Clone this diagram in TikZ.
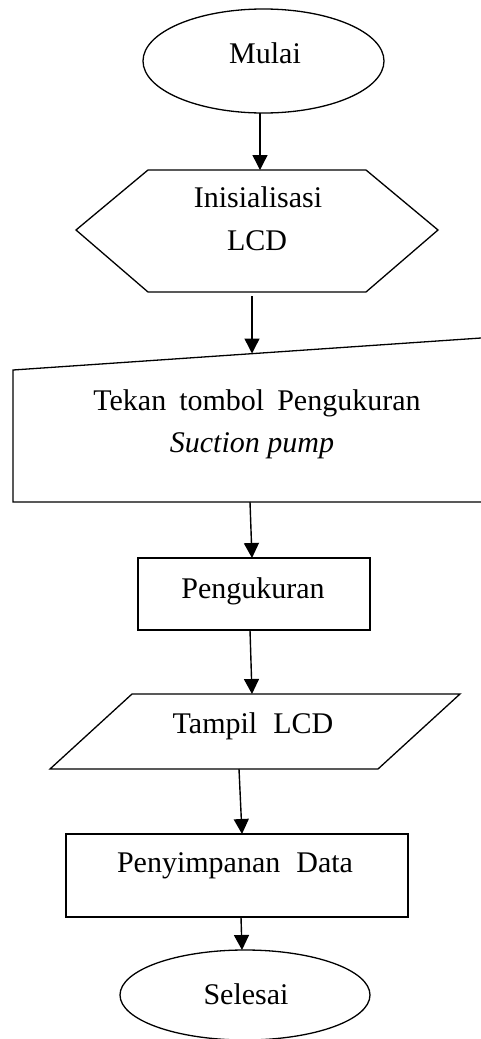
\documentclass[tikz,border=0pt]{standalone}
\usepackage{fontspec}
\setmainfont{Liberation Serif}
\usetikzlibrary{arrows.meta}
\tikzset{
  shapeline/.style={draw=black, line width=1.3pt, line join=miter},
  lbl/.style={anchor=base, inner sep=0pt, font=\fontsize{30}{36}\selectfont},
  flow/.style={draw=black, line width=1.4pt, -{Triangle[length=15pt,width=15pt]}}
}
\begin{document}
\begin{tikzpicture}[x=1pt,y=-1pt]
\useasboundingbox (0,0) rectangle (480,1039);
\fill[white] (0,0) rectangle (480,1039);
% Mulai
\draw[shapeline] (263.5,61) ellipse [x radius=120.5, y radius=52];
\node[lbl] (mulai) at (265,63) {Mulai};
% Hexagon
\draw[shapeline] (76,230) -- (148,170) -- (366,170) -- (438,230) -- (366,292) -- (148,292) -- cycle;
\node[lbl] (init1) at (258,207) {Inisialisasi};
\node[lbl] (init2) at (257,250) {LCD};
% Manual input
\draw[shapeline] (13,370) -- (484,337.8) -- (484,502) -- (13,502) -- cycle;
\node[lbl] (tekan1) at (257,410) {Tekan\hspace{13pt}tombol\hspace{13pt}Pengukuran};
\node[lbl] (tekan2) at (252,452) {\itshape Suction pump};
% Pengukuran
\draw[shapeline] (138,558) rectangle (370,630);
\node[lbl] (ukur) at (253,598) {Pengukuran};
% Tampil LCD
\draw[shapeline] (132,694) -- (460,694) -- (378,769) -- (50,769) -- cycle;
\node[lbl] (tampil) at (253,733) {Tampil\hspace{16pt}LCD};
% Penyimpanan Data
\draw[shapeline] (66,834) rectangle (408,917);
\node[lbl] (simpan) at (235,872) {Penyimpanan\hspace{16pt}Data};
% Selesai
\draw[shapeline] (245,995) ellipse [x radius=125, y radius=45];
\node[lbl] (selesai) at (246,1004) {Selesai};
% connector endpoints
\coordinate (a1) at (260,113); \coordinate (b1) at (260,170);
\coordinate (a2) at (252,296); \coordinate (b2) at (252,353.5);
\coordinate (a3) at (250,502); \coordinate (b3) at (252,558);
\coordinate (a4) at (250,630); \coordinate (b4) at (252,694);
\coordinate (a5) at (239,769); \coordinate (b5) at (242,834);
\coordinate (a6) at (241,917); \coordinate (b6) at (242,950);
\draw[flow] (a1) -- (b1);
\draw[flow] (a2) -- (b2);
\draw[flow] (a3) -- (b3);
\draw[flow] (a4) -- (b4);
\draw[flow] (a5) -- (b5);
\draw[flow] (a6) -- (b6);
\end{tikzpicture}
\end{document}
